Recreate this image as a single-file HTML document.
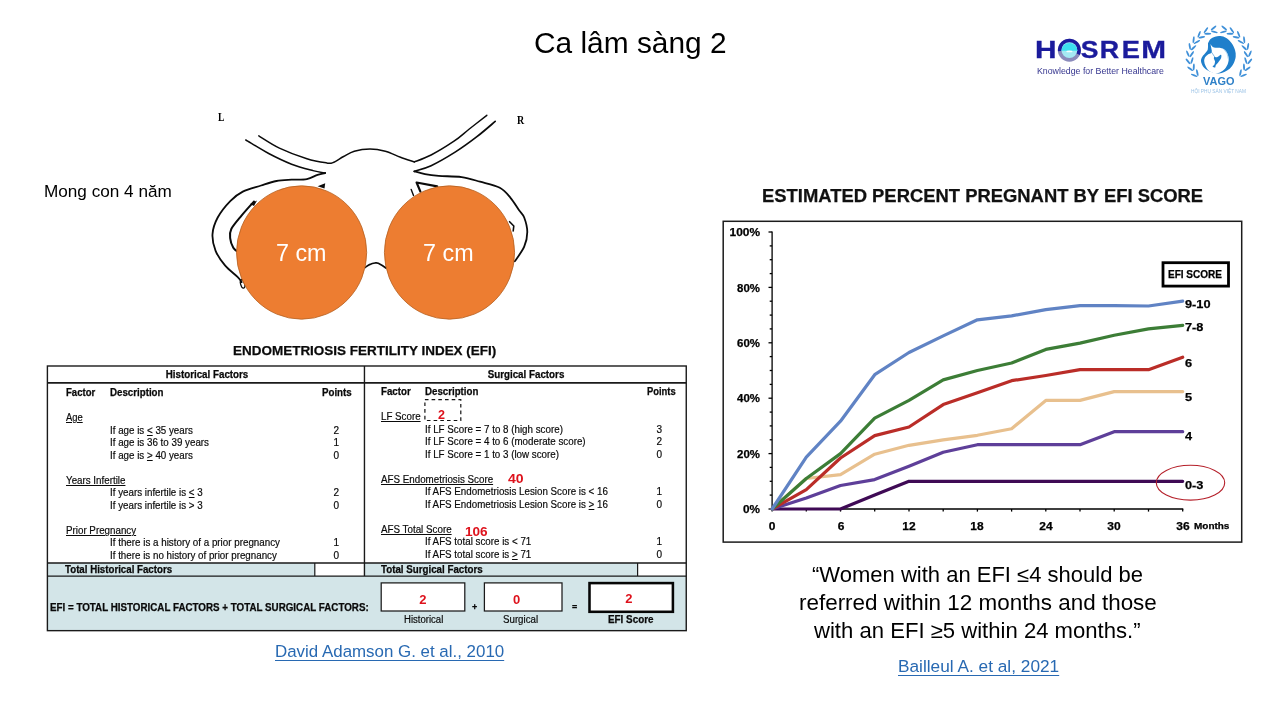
<!DOCTYPE html>
<html><head><meta charset="utf-8"><title>Ca lam sang 2</title>
<style>
html,body{margin:0;padding:0;background:#fff;}
#slide{will-change:transform;position:relative;width:1280px;height:720px;overflow:hidden;background:#fff;font-family:"Liberation Sans",sans-serif;}
.t{position:absolute;white-space:nowrap;line-height:1;display:block;}
svg{position:absolute;left:0;top:0;}
.bx{position:absolute;box-sizing:border-box;}

</style></head>
<body>
<div id="slide">
<div class="bx" style="left:47.4px;top:563px;width:638.8px;height:67.7px;background:#D3E5E8;"></div>
<div class="bx" style="left:314.8px;top:563px;width:49.6px;height:13px;background:#fff;"></div>
<div class="bx" style="left:637.6px;top:563px;width:48.6px;height:13px;background:#fff;"></div>
<svg width="1280" height="720" viewBox="0 0 1280 720">
<g fill="none" stroke="#1a1a1a">
<rect x="47.4" y="366" width="638.85" height="264.65" stroke-width="1.4"/>
<path d="M47.4,382.9H686.2" stroke-width="1.7"/>
<path d="M47.4,563H686.2M47.4,576.05H686.2" stroke-width="1.35"/>
<path d="M364.45,366V576" stroke-width="1.4"/>
<path d="M314.8,563V576M637.6,563V576" stroke-width="1.2"/>
<rect x="381.2" y="582.9" width="83.6" height="28.1" fill="#fff" stroke-width="1.25"/>
<rect x="484.4" y="582.9" width="77.6" height="28.1" fill="#fff" stroke-width="1.25"/>
<rect x="589.5" y="583.1" width="83.4" height="28.7" fill="#fff" stroke="#060606" stroke-width="2.55"/>
</g>
<g fill="none" stroke="#0b0b0b" stroke-width="1.5" stroke-linecap="round" stroke-linejoin="round">
<path d="M258.8,135.9C262.2,137.9 271.4,144.3 279.4,148.1C287.4,151.9 299.0,156.3 306.9,158.8C314.8,161.3 322.5,162.3 326.8,162.9C331.1,163.5 330.1,163.7 332.9,162.6C335.7,161.5 340.0,158.4 343.6,156.5C347.2,154.6 349.9,152.5 354.3,151.2C358.7,149.9 364.8,148.9 370.0,148.9C375.2,148.9 380.2,149.8 385.3,151.2C390.4,152.6 395.7,155.5 400.5,157.3C405.3,159.1 412.0,161.1 414.3,161.9"/>
<path d="M414.3,161.9C417.1,160.8 424.5,158.4 431.1,155.0C437.7,151.6 447.6,145.5 454.0,141.2C460.4,136.9 463.8,133.3 469.3,129.0C474.8,124.7 483.9,117.6 486.8,115.3"/>
<path d="M245.8,140.0C249.6,142.2 261.1,149.5 268.7,153.5C276.3,157.5 284.2,161.3 291.6,164.2C299.0,167.0 307.4,169.1 313.0,170.6C318.6,172.1 323.2,172.6 325.2,173.0"/>
<path d="M325.2,173.0C323.9,173.3 320.7,173.8 317.6,174.8C314.6,175.8 311.2,178.3 306.9,179.1C302.6,179.9 296.7,179.4 291.6,179.7C286.5,180.0 281.5,180.0 276.4,181.0C271.3,182.0 266.7,183.7 261.1,185.5C255.5,187.3 247.9,189.0 242.8,191.6C237.7,194.2 234.7,196.5 230.5,200.8C226.3,205.1 220.7,211.9 217.7,217.5C214.7,223.1 212.8,228.6 212.5,234.2C212.2,239.8 213.5,245.6 215.6,250.8C217.7,256.0 221.3,261.0 225.0,265.4C228.7,269.8 234.7,274.1 237.5,276.9C240.3,279.7 241.0,281.2 241.7,282.1" stroke-width="1.8"/>
<path d="M254.0,201.5C251.9,203.8 245.5,210.8 241.7,215.4C237.9,220.0 233.2,225.2 231.3,229.0C229.4,232.8 229.9,235.2 230.2,238.3C230.5,241.4 232.0,245.4 233.3,247.7C234.6,250.0 237.2,251.3 238.0,252.0" stroke-width="2"/>
<ellipse cx="242.6" cy="283.8" rx="2" ry="4.4" transform="rotate(-15 242.6 283.8)" stroke-width="1.3"/>
<path d="M495.2,121.4C492.1,124.0 483.5,131.6 476.9,136.7C470.3,141.8 463.1,147.1 455.5,151.9C447.9,156.7 438.0,162.5 431.1,165.7C424.2,168.9 417.1,170.4 414.3,171.3" stroke-width="1.7"/>
<path d="M414.3,171.3C416.1,171.8 420.9,173.3 425.0,174.1C429.1,174.9 432.6,175.4 438.7,175.9C444.8,176.4 454.7,176.1 461.6,177.1C468.5,178.1 473.6,179.9 480.0,181.7C486.4,183.5 494.7,185.1 499.8,187.8C504.9,190.5 507.3,194.1 510.5,197.8C513.7,201.5 516.6,206.7 518.9,210.0C521.2,213.3 522.8,213.8 524.2,217.5C525.6,221.2 527.3,227.2 527.3,232.1C527.3,237.0 526.3,241.8 524.2,246.7C522.1,251.6 516.4,258.9 514.8,261.3" stroke-width="1.8"/>
<path d="M420.4,191.6L416.6,182.5L437.2,186.3" stroke-width="2.2"/>
<path d="M411.2,189.4L413.5,195.5" stroke-width="1.4"/>
<path d="M509.6,221.7L513.8,226L513.2,231" stroke-width="1.6"/>
<path d="M365.0,267.5C365.8,267.0 368.3,265.1 370.0,264.4C371.7,263.6 373.6,263.2 375.0,263.0C376.4,262.8 376.5,262.5 378.3,263.3C380.1,264.1 384.7,267.2 386.0,268.0" stroke-width="1.7"/>
</g>
<path d="M317.6,186.3L325.2,183.2L324.5,188.6Z" fill="#0b0b0b"/>
<path d="M250,204L257,200.5L254,206Z" fill="#0b0b0b"/>
<ellipse cx="301.6" cy="252.5" rx="65.1" ry="66.7" fill="#ED7D31" stroke="#B5601F" stroke-width="0.8"/>
<ellipse cx="449.5" cy="252.5" rx="65.1" ry="66.7" fill="#ED7D31" stroke="#B5601F" stroke-width="0.8"/>
<rect x="723.2" y="221.3" width="518.5" height="320.8" fill="#fff" stroke="#1c1c1c" stroke-width="1.5"/>
<g stroke="#000" stroke-width="1.3" fill="none">
<path d="M772.1,231.4V509.0H1183.28"/>
<path d="M768.5,509.0H772.1"/>
<path d="M769.7,495.1H772.1"/>
<path d="M769.7,481.3H772.1"/>
<path d="M769.7,467.4H772.1"/>
<path d="M768.5,453.6H772.1"/>
<path d="M769.7,439.8H772.1"/>
<path d="M769.7,425.9H772.1"/>
<path d="M769.7,412.1H772.1"/>
<path d="M768.5,398.2H772.1"/>
<path d="M769.7,384.4H772.1"/>
<path d="M769.7,370.5H772.1"/>
<path d="M769.7,356.6H772.1"/>
<path d="M768.5,342.8H772.1"/>
<path d="M769.7,328.9H772.1"/>
<path d="M769.7,315.1H772.1"/>
<path d="M769.7,301.2H772.1"/>
<path d="M768.5,287.4H772.1"/>
<path d="M769.7,273.6H772.1"/>
<path d="M769.7,259.7H772.1"/>
<path d="M769.7,245.9H772.1"/>
<path d="M768.5,232.0H772.1"/>
<path d="M772.1,509.0V511.6"/>
<path d="M806.3,509.0V511.6"/>
<path d="M840.5,509.0V511.6"/>
<path d="M874.7,509.0V511.6"/>
<path d="M909.0,509.0V511.6"/>
<path d="M943.2,509.0V511.6"/>
<path d="M977.4,509.0V511.6"/>
<path d="M1011.6,509.0V511.6"/>
<path d="M1045.8,509.0V511.6"/>
<path d="M1080.0,509.0V511.6"/>
<path d="M1114.2,509.0V511.6"/>
<path d="M1148.5,509.0V511.6"/>
<path d="M1182.7,509.0V511.6"/>
</g>
<path d="M772.1,509.0L806.3,478.5L840.5,474.7L874.7,454.2L909.0,445.3L943.2,439.8L977.4,435.3L1011.6,428.7L1045.8,400.4L1080.0,400.4L1114.2,391.6L1148.5,391.6L1182.7,391.6" fill="none" stroke="#E8C08E" stroke-width="3.2" stroke-linejoin="round" stroke-linecap="round"/>
<path d="M772.1,509.0L840.5,509.0L874.7,495.1L909.0,481.3L1182.7,481.3" fill="none" stroke="#3F0A55" stroke-width="3.2" stroke-linejoin="round" stroke-linecap="round"/>
<path d="M772.1,509.0L806.3,497.9L840.5,485.5L874.7,479.6L909.0,466.3L943.2,452.2L977.4,444.7L1080.0,444.7L1114.2,431.7L1182.7,431.7" fill="none" stroke="#5E3F99" stroke-width="3.2" stroke-linejoin="round" stroke-linecap="round"/>
<path d="M772.1,509.0L806.3,489.6L840.5,458.0L874.7,435.6L909.0,427.0L943.2,404.6L977.4,392.7L1011.6,380.7L1045.8,375.5L1080.0,369.7L1114.2,369.7L1148.5,369.7L1182.7,357.2" fill="none" stroke="#BA2D28" stroke-width="3.2" stroke-linejoin="round" stroke-linecap="round"/>
<path d="M772.1,509.0L806.3,478.5L840.5,453.6L874.7,418.1L909.0,400.4L943.2,379.9L977.4,370.5L1011.6,363.0L1045.8,349.4L1080.0,343.1L1114.2,335.3L1148.5,328.9L1182.7,325.3" fill="none" stroke="#3C7D36" stroke-width="3.2" stroke-linejoin="round" stroke-linecap="round"/>
<path d="M772.1,509.0L806.3,457.2L840.5,421.2L874.7,374.7L909.0,352.5L943.2,335.9L977.4,319.8L1011.6,315.9L1045.8,309.6L1080.0,305.7L1114.2,305.7L1148.5,306.0L1182.7,301.2" fill="none" stroke="#6083C4" stroke-width="3.2" stroke-linejoin="round" stroke-linecap="round"/>
<rect x="424.9" y="399.6" width="35.9" height="20.9" fill="none" stroke="#111" stroke-width="1.2" stroke-dasharray="3.6 3.1"/>
<rect x="1163" y="262.7" width="65.5" height="23.4" fill="#fff" stroke="#000" stroke-width="2.8"/>
<ellipse cx="1190.5" cy="482.7" rx="34.2" ry="17.4" fill="none" stroke="#B5202A" stroke-width="1.1"/>
<g font-family="'Liberation Sans', sans-serif" font-weight="bold" font-size="23.84" fill="#1B1B9C" stroke="#1B1B9C" stroke-width="0.35">
<text transform="translate(1035.11,58.3) scale(1.249,1)">H</text>
<text transform="translate(1080.64,58.3) scale(1.113,1)">S</text>
<text transform="translate(1099.81,58.3) scale(1.123,1)">R</text>
<text transform="translate(1121.68,58.3) scale(1.144,1)">E</text>
<text transform="translate(1141.21,58.3) scale(1.248,1)">M</text>
</g>
<circle cx="1069.4" cy="50.2" r="11.5" fill="#8B8BBB"/>
<path d="M1069.4,50.2L1057.94,51.20A11.5,11.5 0 1 1 1079.82,55.06Z" fill="#1B1B9C"/>
<circle cx="1069.4" cy="50.2" r="7.9" fill="#A5E9F3"/>
<path d="M1061.5,50.800000000000004A7.9,7.9 0 0 1 1077.3000000000002,50.800000000000004Z" fill="#3DE0EE"/>
<ellipse cx="1069.4" cy="51.400000000000006" rx="3.2" ry="0.9" fill="#fff" opacity="0.9"/>
<g fill="#3F90D8">
<ellipse cx="1194.23" cy="75.31" rx="3.5" ry="0.95" transform="rotate(202.0 1194.23 75.31)"/>
<ellipse cx="1197.29" cy="72.74" rx="3.5" ry="0.95" transform="rotate(258.0 1197.29 72.74)"/>
<ellipse cx="1190.17" cy="68.74" rx="3.5" ry="0.95" transform="rotate(216.8 1190.17 68.74)"/>
<ellipse cx="1193.79" cy="67.03" rx="3.5" ry="0.95" transform="rotate(272.8 1193.79 67.03)"/>
<ellipse cx="1188.00" cy="61.41" rx="3.5" ry="0.95" transform="rotate(231.5 1188.00 61.41)"/>
<ellipse cx="1191.94" cy="60.69" rx="3.5" ry="0.95" transform="rotate(287.5 1191.94 60.69)"/>
<ellipse cx="1187.87" cy="53.81" rx="3.5" ry="0.95" transform="rotate(246.2 1187.87 53.81)"/>
<ellipse cx="1191.86" cy="54.11" rx="3.5" ry="0.95" transform="rotate(302.2 1191.86 54.11)"/>
<ellipse cx="1189.79" cy="46.43" rx="3.5" ry="0.95" transform="rotate(261.0 1189.79 46.43)"/>
<ellipse cx="1193.57" cy="47.73" rx="3.5" ry="0.95" transform="rotate(317.0 1193.57 47.73)"/>
<ellipse cx="1193.62" cy="39.76" rx="3.5" ry="0.95" transform="rotate(275.8 1193.62 39.76)"/>
<ellipse cx="1196.95" cy="41.98" rx="3.5" ry="0.95" transform="rotate(331.8 1196.95 41.98)"/>
<ellipse cx="1199.13" cy="34.24" rx="3.5" ry="0.95" transform="rotate(290.5 1199.13 34.24)"/>
<ellipse cx="1201.78" cy="37.23" rx="3.5" ry="0.95" transform="rotate(346.5 1201.78 37.23)"/>
<ellipse cx="1205.93" cy="30.23" rx="3.5" ry="0.95" transform="rotate(305.2 1205.93 30.23)"/>
<ellipse cx="1207.73" cy="33.80" rx="3.5" ry="0.95" transform="rotate(361.2 1207.73 33.80)"/>
<ellipse cx="1213.59" cy="28.00" rx="3.5" ry="0.95" transform="rotate(320.0 1213.59 28.00)"/>
<ellipse cx="1214.42" cy="31.91" rx="3.5" ry="0.95" transform="rotate(376.0 1214.42 31.91)"/>
<ellipse cx="1243.57" cy="75.31" rx="3.5" ry="0.95" transform="rotate(-22.0 1243.57 75.31)"/>
<ellipse cx="1240.51" cy="72.74" rx="3.5" ry="0.95" transform="rotate(-78.0 1240.51 72.74)"/>
<ellipse cx="1247.63" cy="68.74" rx="3.5" ry="0.95" transform="rotate(-36.8 1247.63 68.74)"/>
<ellipse cx="1244.01" cy="67.03" rx="3.5" ry="0.95" transform="rotate(-92.8 1244.01 67.03)"/>
<ellipse cx="1249.80" cy="61.41" rx="3.5" ry="0.95" transform="rotate(-51.5 1249.80 61.41)"/>
<ellipse cx="1245.86" cy="60.69" rx="3.5" ry="0.95" transform="rotate(-107.5 1245.86 60.69)"/>
<ellipse cx="1249.93" cy="53.81" rx="3.5" ry="0.95" transform="rotate(-66.2 1249.93 53.81)"/>
<ellipse cx="1245.94" cy="54.11" rx="3.5" ry="0.95" transform="rotate(-122.2 1245.94 54.11)"/>
<ellipse cx="1248.01" cy="46.43" rx="3.5" ry="0.95" transform="rotate(-81.0 1248.01 46.43)"/>
<ellipse cx="1244.23" cy="47.73" rx="3.5" ry="0.95" transform="rotate(-137.0 1244.23 47.73)"/>
<ellipse cx="1244.18" cy="39.76" rx="3.5" ry="0.95" transform="rotate(-95.8 1244.18 39.76)"/>
<ellipse cx="1240.85" cy="41.98" rx="3.5" ry="0.95" transform="rotate(-151.8 1240.85 41.98)"/>
<ellipse cx="1238.67" cy="34.24" rx="3.5" ry="0.95" transform="rotate(-110.5 1238.67 34.24)"/>
<ellipse cx="1236.02" cy="37.23" rx="3.5" ry="0.95" transform="rotate(-166.5 1236.02 37.23)"/>
<ellipse cx="1231.87" cy="30.23" rx="3.5" ry="0.95" transform="rotate(-125.2 1231.87 30.23)"/>
<ellipse cx="1230.07" cy="33.80" rx="3.5" ry="0.95" transform="rotate(-181.2 1230.07 33.80)"/>
<ellipse cx="1224.21" cy="28.00" rx="3.5" ry="0.95" transform="rotate(-140.0 1224.21 28.00)"/>
<ellipse cx="1223.38" cy="31.91" rx="3.5" ry="0.95" transform="rotate(-196.0 1223.38 31.91)"/>
</g>
<path d="M1208.0,43.3C1208.4,42.7 1209.2,40.4 1210.3,39.3C1211.5,38.2 1213.3,37.2 1215.0,36.7C1216.7,36.1 1218.4,35.8 1220.3,36.0C1222.2,36.2 1224.4,36.8 1226.3,38.0C1228.2,39.2 1230.2,41.3 1231.7,43.3C1233.1,45.3 1234.3,47.8 1235.0,50.0C1235.7,52.2 1235.9,54.4 1235.7,56.7C1235.4,58.9 1234.7,61.3 1233.7,63.3C1232.7,65.3 1231.2,67.2 1229.7,68.7C1228.1,70.1 1226.1,71.2 1224.3,72.0C1222.6,72.8 1220.7,73.3 1219.0,73.5C1217.3,73.6 1216.1,73.3 1214.3,72.8C1212.6,72.3 1210.1,71.6 1208.3,70.7C1206.6,69.8 1204.9,68.9 1203.7,67.3C1202.4,65.8 1201.2,63.1 1201.0,61.3C1200.8,59.6 1201.5,58.2 1202.3,56.7C1203.2,55.2 1205.1,53.6 1206.0,52.3C1206.9,51.1 1207.5,50.8 1207.8,49.3C1208.1,47.8 1208.0,44.3 1208.0,43.3Z" fill="#1F7FCB"/>
<path d="M1210.5,44.1C1210.8,44.6 1211.6,46.1 1212.5,46.7C1213.3,47.3 1214.5,47.6 1215.7,47.7C1216.9,47.9 1218.3,47.5 1219.7,47.7C1221.0,48.0 1222.4,48.2 1223.7,49.1C1224.9,49.9 1226.2,51.2 1227.0,52.7C1227.8,54.2 1228.5,56.2 1228.7,58.0C1228.8,59.8 1228.6,61.5 1228.0,63.3C1227.4,65.1 1226.3,67.3 1225.0,68.8C1223.7,70.3 1222.0,71.5 1220.3,72.3C1218.6,73.0 1216.6,73.6 1214.7,73.3C1212.9,73.1 1210.6,72.1 1209.1,70.9C1207.6,69.8 1206.5,67.9 1205.7,66.3C1204.8,64.7 1204.3,62.8 1204.2,61.3C1204.1,59.8 1204.5,58.5 1205.1,57.3C1205.8,56.2 1207.0,55.2 1208.0,54.5C1209.0,53.8 1210.2,53.7 1210.9,53.2C1211.5,52.7 1211.7,52.2 1211.8,51.5C1211.9,50.7 1211.6,50.0 1211.4,48.8C1211.2,47.6 1210.6,44.9 1210.5,44.1Z" fill="#fff"/>
<path d="M1214.2,56.5C1214.7,56.7 1215.9,57.6 1217.0,57.3C1218.1,57.0 1220.2,54.7 1220.9,54.8C1221.6,54.9 1221.5,56.8 1221.1,58.0C1220.7,59.2 1219.4,60.8 1218.5,62.0C1217.6,63.2 1216.4,64.4 1215.8,65.3C1215.2,66.2 1215.7,67.3 1215.1,67.5C1214.6,67.6 1212.7,66.9 1212.6,66.4C1212.5,65.9 1213.9,65.5 1214.3,64.7C1214.7,63.8 1215.1,62.3 1215.0,61.3C1214.9,60.3 1214.1,59.5 1213.9,58.7C1213.8,57.9 1214.2,56.9 1214.2,56.5Z" fill="#1F7FCB"/>
<path d="M1211.4,52.1C1211.7,52.5 1212.6,53.8 1213.1,54.5C1213.6,55.3 1214.2,56.3 1214.5,56.7" fill="none" stroke="#1F7FCB" stroke-width="0.6"/>
<path d="M1223.8,49.2C1224.3,49.9 1226.1,51.8 1226.9,53.3C1227.6,54.9 1228.0,57.8 1228.2,58.7" fill="none" stroke="#8CC4EC" stroke-width="0.7"/>
</svg>
<span class="t" style="left:533.80px;top:28.00px;font-size:30.2px;color:#000;transform:scaleX(0.9894);transform-origin:0 0;">Ca lâm sàng 2</span>
<span class="t" style="left:43.70px;top:183.00px;font-size:16.3px;color:#000;transform:scaleX(1.0537);transform-origin:0 0;">Mong con 4 năm</span>
<span class="t" style="left:274.60px;top:643.00px;font-size:16.3px;color:#2869B2;text-decoration:underline;transform:scaleX(1.0378);transform-origin:0 0;text-underline-offset:2.6px;text-decoration-thickness:1.1px;">David Adamson G. et al., 2010</span>
<span class="t" style="left:897.50px;top:658.00px;font-size:16.3px;color:#2869B2;text-decoration:underline;transform:scaleX(1.0600);transform-origin:0 0;text-underline-offset:2.6px;text-decoration-thickness:1.1px;">Bailleul A. et al, 2021</span>
<span class="t" style="left:812.30px;top:564.00px;font-size:21.2px;color:#000;transform:scaleX(1.0389);transform-origin:0 0;">“Women with an EFI ≤4 should be</span>
<span class="t" style="left:798.90px;top:592.00px;font-size:21.2px;color:#000;transform:scaleX(1.0585);transform-origin:0 0;">referred within 12 months and those</span>
<span class="t" style="left:813.80px;top:620.00px;font-size:21.2px;color:#000;transform:scaleX(1.0431);transform-origin:0 0;">with an EFI ≥5 within 24 months.”</span>
<span class="t" style="left:217.80px;top:111.00px;font-size:12.7px;color:#000;font-weight:bold;font-family:'Liberation Serif', serif;transform:scaleX(0.7600);transform-origin:0 0;">L</span>
<span class="t" style="left:517.20px;top:114.00px;font-size:12.5px;color:#000;font-weight:bold;font-family:'Liberation Serif', serif;transform:scaleX(0.8000);transform-origin:0 0;">R</span>
<span class="t" style="left:276.00px;top:242.00px;font-size:23.3px;color:#fff;">7 cm</span>
<span class="t" style="left:423.10px;top:242.00px;font-size:23.3px;color:#fff;">7 cm</span>
<span class="t" style="left:233.10px;top:344.00px;font-size:13.6px;color:#0a0a0a;font-weight:bold;-webkit-text-stroke:0.25px currentColor;transform:scaleX(0.9913);transform-origin:0 0;">ENDOMETRIOSIS FERTILITY INDEX (EFI)</span>
<span class="t" style="left:206.60px;top:370.00px;font-size:10px;color:#0a0a0a;font-weight:bold;-webkit-text-stroke:0.25px currentColor;transform:translateX(-50%) scaleX(0.9780);transform-origin:50% 0;">Historical Factors</span>
<span class="t" style="left:526.40px;top:370.00px;font-size:10px;color:#0a0a0a;font-weight:bold;-webkit-text-stroke:0.25px currentColor;transform:translateX(-50%) scaleX(0.9780);transform-origin:50% 0;">Surgical Factors</span>
<span class="t" style="left:65.80px;top:388.00px;font-size:10px;color:#0a0a0a;font-weight:bold;-webkit-text-stroke:0.25px currentColor;transform:scaleX(0.9554);transform-origin:0 0;">Factor</span>
<span class="t" style="left:109.80px;top:388.00px;font-size:10px;color:#0a0a0a;font-weight:bold;-webkit-text-stroke:0.25px currentColor;transform:scaleX(0.9725);transform-origin:0 0;">Description</span>
<span class="t" style="left:322.20px;top:388.00px;font-size:10px;color:#0a0a0a;font-weight:bold;-webkit-text-stroke:0.25px currentColor;transform:scaleX(0.9718);transform-origin:0 0;">Points</span>
<span class="t" style="left:65.80px;top:413.00px;font-size:10px;color:#0a0a0a;-webkit-text-stroke:0.18px currentColor;text-decoration:underline;transform:scaleX(0.9384);transform-origin:0 0;text-underline-offset:1px;text-decoration-thickness:1px;">Age</span>
<span class="t" style="left:109.80px;top:426.00px;font-size:10px;color:#0a0a0a;-webkit-text-stroke:0.18px currentColor;transform:scaleX(0.9776);transform-origin:0 0;">If age is <u>&lt;</u> 35 years</span>
<span class="t" style="left:109.80px;top:438.00px;font-size:10px;color:#0a0a0a;-webkit-text-stroke:0.18px currentColor;transform:scaleX(0.9785);transform-origin:0 0;">If age is 36 to 39 years</span>
<span class="t" style="left:109.80px;top:451.00px;font-size:10px;color:#0a0a0a;-webkit-text-stroke:0.18px currentColor;transform:scaleX(0.9776);transform-origin:0 0;">If age is <u>&gt;</u> 40 years</span>
<span class="t" style="left:65.80px;top:476.00px;font-size:10px;color:#0a0a0a;-webkit-text-stroke:0.18px currentColor;text-decoration:underline;transform:scaleX(0.9780);transform-origin:0 0;text-underline-offset:1px;text-decoration-thickness:1px;">Years Infertile</span>
<span class="t" style="left:109.80px;top:488.00px;font-size:10px;color:#0a0a0a;-webkit-text-stroke:0.18px currentColor;transform:scaleX(0.9780);transform-origin:0 0;">If years infertile is <u>&lt;</u> 3</span>
<span class="t" style="left:109.80px;top:501.00px;font-size:10px;color:#0a0a0a;-webkit-text-stroke:0.18px currentColor;transform:scaleX(0.9780);transform-origin:0 0;">If years infertile is &gt; 3</span>
<span class="t" style="left:65.80px;top:526.00px;font-size:10px;color:#0a0a0a;-webkit-text-stroke:0.18px currentColor;text-decoration:underline;transform:scaleX(0.9780);transform-origin:0 0;text-underline-offset:1px;text-decoration-thickness:1px;">Prior Pregnancy</span>
<span class="t" style="left:109.80px;top:538.00px;font-size:10px;color:#0a0a0a;-webkit-text-stroke:0.18px currentColor;transform:scaleX(0.9803);transform-origin:0 0;">If there is a history of a prior pregnancy</span>
<span class="t" style="left:109.80px;top:551.00px;font-size:10px;color:#0a0a0a;-webkit-text-stroke:0.18px currentColor;transform:scaleX(0.9780);transform-origin:0 0;">If there is no history of prior pregnancy</span>
<span class="t" style="left:336.40px;top:426.00px;font-size:10px;color:#0a0a0a;-webkit-text-stroke:0.18px currentColor;transform:translateX(-50%);transform-origin:50% 0;">2</span>
<span class="t" style="left:336.40px;top:438.00px;font-size:10px;color:#0a0a0a;-webkit-text-stroke:0.18px currentColor;transform:translateX(-50%);transform-origin:50% 0;">1</span>
<span class="t" style="left:336.40px;top:451.00px;font-size:10px;color:#0a0a0a;-webkit-text-stroke:0.18px currentColor;transform:translateX(-50%);transform-origin:50% 0;">0</span>
<span class="t" style="left:336.40px;top:488.00px;font-size:10px;color:#0a0a0a;-webkit-text-stroke:0.18px currentColor;transform:translateX(-50%);transform-origin:50% 0;">2</span>
<span class="t" style="left:336.40px;top:501.00px;font-size:10px;color:#0a0a0a;-webkit-text-stroke:0.18px currentColor;transform:translateX(-50%);transform-origin:50% 0;">0</span>
<span class="t" style="left:336.40px;top:538.00px;font-size:10px;color:#0a0a0a;-webkit-text-stroke:0.18px currentColor;transform:translateX(-50%);transform-origin:50% 0;">1</span>
<span class="t" style="left:336.40px;top:551.00px;font-size:10px;color:#0a0a0a;-webkit-text-stroke:0.18px currentColor;transform:translateX(-50%);transform-origin:50% 0;">0</span>
<span class="t" style="left:65.20px;top:565.00px;font-size:10px;color:#0a0a0a;font-weight:bold;-webkit-text-stroke:0.25px currentColor;transform:scaleX(0.9701);transform-origin:0 0;">Total Historical Factors</span>
<span class="t" style="left:380.60px;top:387.00px;font-size:10px;color:#0a0a0a;font-weight:bold;-webkit-text-stroke:0.25px currentColor;transform:scaleX(0.9718);transform-origin:0 0;">Factor</span>
<span class="t" style="left:425.20px;top:387.00px;font-size:10px;color:#0a0a0a;font-weight:bold;-webkit-text-stroke:0.25px currentColor;transform:scaleX(0.9706);transform-origin:0 0;">Description</span>
<span class="t" style="left:646.70px;top:387.00px;font-size:10px;color:#0a0a0a;font-weight:bold;-webkit-text-stroke:0.25px currentColor;transform:scaleX(0.9391);transform-origin:0 0;">Points</span>
<span class="t" style="left:380.60px;top:412.00px;font-size:10px;color:#0a0a0a;-webkit-text-stroke:0.18px currentColor;text-decoration:underline;transform:scaleX(0.9759);transform-origin:0 0;text-underline-offset:1px;text-decoration-thickness:1px;">LF Score</span>
<span class="t" style="left:425.20px;top:425.00px;font-size:10px;color:#0a0a0a;-webkit-text-stroke:0.18px currentColor;transform:scaleX(0.9787);transform-origin:0 0;">If LF Score = 7 to 8 (high score)</span>
<span class="t" style="left:425.20px;top:437.00px;font-size:10px;color:#0a0a0a;-webkit-text-stroke:0.18px currentColor;transform:scaleX(0.9780);transform-origin:0 0;">If LF Score = 4 to 6 (moderate score)</span>
<span class="t" style="left:425.20px;top:450.00px;font-size:10px;color:#0a0a0a;-webkit-text-stroke:0.18px currentColor;transform:scaleX(0.9780);transform-origin:0 0;">If LF Score = 1 to 3 (low score)</span>
<span class="t" style="left:380.60px;top:475.00px;font-size:10px;color:#0a0a0a;-webkit-text-stroke:0.18px currentColor;text-decoration:underline;transform:scaleX(0.9790);transform-origin:0 0;text-underline-offset:1px;text-decoration-thickness:1px;">AFS Endometriosis Score</span>
<span class="t" style="left:425.20px;top:487.00px;font-size:10px;color:#0a0a0a;-webkit-text-stroke:0.18px currentColor;transform:scaleX(0.9780);transform-origin:0 0;">If AFS Endometriosis Lesion Score is &lt; 16</span>
<span class="t" style="left:425.20px;top:500.00px;font-size:10px;color:#0a0a0a;-webkit-text-stroke:0.18px currentColor;transform:scaleX(0.9780);transform-origin:0 0;">If AFS Endometriosis Lesion Score is <u>&gt;</u> 16</span>
<span class="t" style="left:380.60px;top:525.00px;font-size:10px;color:#0a0a0a;-webkit-text-stroke:0.18px currentColor;text-decoration:underline;transform:scaleX(0.9795);transform-origin:0 0;text-underline-offset:1px;text-decoration-thickness:1px;">AFS Total Score</span>
<span class="t" style="left:425.20px;top:537.00px;font-size:10px;color:#0a0a0a;-webkit-text-stroke:0.18px currentColor;transform:scaleX(0.9780);transform-origin:0 0;">If AFS total score is &lt; 71</span>
<span class="t" style="left:425.20px;top:550.00px;font-size:10px;color:#0a0a0a;-webkit-text-stroke:0.18px currentColor;transform:scaleX(0.9780);transform-origin:0 0;">If AFS total score is <u>&gt;</u> 71</span>
<span class="t" style="left:659.40px;top:425.00px;font-size:10px;color:#0a0a0a;-webkit-text-stroke:0.18px currentColor;transform:translateX(-50%);transform-origin:50% 0;">3</span>
<span class="t" style="left:659.40px;top:437.00px;font-size:10px;color:#0a0a0a;-webkit-text-stroke:0.18px currentColor;transform:translateX(-50%);transform-origin:50% 0;">2</span>
<span class="t" style="left:659.40px;top:450.00px;font-size:10px;color:#0a0a0a;-webkit-text-stroke:0.18px currentColor;transform:translateX(-50%);transform-origin:50% 0;">0</span>
<span class="t" style="left:659.40px;top:487.00px;font-size:10px;color:#0a0a0a;-webkit-text-stroke:0.18px currentColor;transform:translateX(-50%);transform-origin:50% 0;">1</span>
<span class="t" style="left:659.40px;top:500.00px;font-size:10px;color:#0a0a0a;-webkit-text-stroke:0.18px currentColor;transform:translateX(-50%);transform-origin:50% 0;">0</span>
<span class="t" style="left:659.40px;top:537.00px;font-size:10px;color:#0a0a0a;-webkit-text-stroke:0.18px currentColor;transform:translateX(-50%);transform-origin:50% 0;">1</span>
<span class="t" style="left:659.40px;top:550.00px;font-size:10px;color:#0a0a0a;-webkit-text-stroke:0.18px currentColor;transform:translateX(-50%);transform-origin:50% 0;">0</span>
<span class="t" style="left:380.50px;top:565.00px;font-size:10px;color:#0a0a0a;font-weight:bold;-webkit-text-stroke:0.25px currentColor;transform:scaleX(0.9751);transform-origin:0 0;">Total Surgical Factors</span>
<span class="t" style="left:437.70px;top:408.00px;font-size:13px;color:#DE121C;font-weight:bold;transform:scaleX(0.9676);transform-origin:0 0;">2</span>
<span class="t" style="left:508.00px;top:472.00px;font-size:13px;color:#DE121C;font-weight:bold;transform:scaleX(1.0782);transform-origin:0 0;">40</span>
<span class="t" style="left:464.80px;top:525.00px;font-size:13px;color:#DE121C;font-weight:bold;transform:scaleX(1.0459);transform-origin:0 0;">106</span>
<span class="t" style="left:50.10px;top:603.00px;font-size:10px;color:#0a0a0a;font-weight:bold;-webkit-text-stroke:0.25px currentColor;transform:scaleX(0.9799);transform-origin:0 0;">EFI = TOTAL HISTORICAL FACTORS + TOTAL SURGICAL FACTORS:</span>
<span class="t" style="left:422.90px;top:593.00px;font-size:13px;color:#DE121C;font-weight:bold;transform:translateX(-50%);transform-origin:50% 0;">2</span>
<span class="t" style="left:516.70px;top:593.00px;font-size:13px;color:#DE121C;font-weight:bold;transform:translateX(-50%);transform-origin:50% 0;">0</span>
<span class="t" style="left:628.80px;top:592.00px;font-size:13px;color:#DE121C;font-weight:bold;transform:translateX(-50%);transform-origin:50% 0;">2</span>
<span class="t" style="left:474.70px;top:603.00px;font-size:9px;color:#0a0a0a;font-weight:bold;-webkit-text-stroke:0.25px currentColor;transform:translateX(-50%);transform-origin:50% 0;">+</span>
<span class="t" style="left:574.60px;top:603.00px;font-size:9px;color:#0a0a0a;font-weight:bold;-webkit-text-stroke:0.25px currentColor;transform:translateX(-50%);transform-origin:50% 0;">=</span>
<span class="t" style="left:403.80px;top:615.00px;font-size:10px;color:#0a0a0a;-webkit-text-stroke:0.18px currentColor;transform:scaleX(0.9556);transform-origin:0 0;">Historical</span>
<span class="t" style="left:502.90px;top:615.00px;font-size:10px;color:#0a0a0a;-webkit-text-stroke:0.18px currentColor;transform:scaleX(0.9712);transform-origin:0 0;">Surgical</span>
<span class="t" style="left:607.50px;top:615.00px;font-size:10px;color:#0a0a0a;font-weight:bold;-webkit-text-stroke:0.25px currentColor;transform:scaleX(0.9861);transform-origin:0 0;">EFI Score</span>
<span class="t" style="left:761.80px;top:187.00px;font-size:18px;color:#111;font-weight:bold;-webkit-text-stroke:0.25px currentColor;transform:scaleX(1.0225);transform-origin:0 0;">ESTIMATED PERCENT PREGNANT BY EFI SCORE</span>
<span class="t" style="left:760.20px;top:227.00px;font-size:10.8px;color:#000;font-weight:bold;-webkit-text-stroke:0.25px currentColor;transform:translateX(-100%) scaleX(1.1041);transform-origin:100% 0;">100%</span>
<span class="t" style="left:760.20px;top:283.00px;font-size:10.8px;color:#000;font-weight:bold;-webkit-text-stroke:0.25px currentColor;transform:translateX(-100%) scaleX(1.0590);transform-origin:100% 0;">80%</span>
<span class="t" style="left:760.20px;top:338.00px;font-size:10.8px;color:#000;font-weight:bold;-webkit-text-stroke:0.25px currentColor;transform:translateX(-100%) scaleX(1.0590);transform-origin:100% 0;">60%</span>
<span class="t" style="left:760.20px;top:393.00px;font-size:10.8px;color:#000;font-weight:bold;-webkit-text-stroke:0.25px currentColor;transform:translateX(-100%) scaleX(1.0590);transform-origin:100% 0;">40%</span>
<span class="t" style="left:760.20px;top:449.00px;font-size:10.8px;color:#000;font-weight:bold;-webkit-text-stroke:0.25px currentColor;transform:translateX(-100%) scaleX(1.0590);transform-origin:100% 0;">20%</span>
<span class="t" style="left:760.20px;top:504.00px;font-size:10.8px;color:#000;font-weight:bold;-webkit-text-stroke:0.25px currentColor;transform:translateX(-100%) scaleX(1.0891);transform-origin:100% 0;">0%</span>
<span class="t" style="left:772.10px;top:521.00px;font-size:10.9px;color:#000;font-weight:bold;-webkit-text-stroke:0.25px currentColor;transform:translateX(-50%) scaleX(1.1000);transform-origin:50% 0;">0</span>
<span class="t" style="left:840.53px;top:521.00px;font-size:10.9px;color:#000;font-weight:bold;-webkit-text-stroke:0.25px currentColor;transform:translateX(-50%) scaleX(1.1000);transform-origin:50% 0;">6</span>
<span class="t" style="left:908.96px;top:521.00px;font-size:10.9px;color:#000;font-weight:bold;-webkit-text-stroke:0.25px currentColor;transform:translateX(-50%) scaleX(1.1000);transform-origin:50% 0;">12</span>
<span class="t" style="left:977.39px;top:521.00px;font-size:10.9px;color:#000;font-weight:bold;-webkit-text-stroke:0.25px currentColor;transform:translateX(-50%) scaleX(1.1000);transform-origin:50% 0;">18</span>
<span class="t" style="left:1045.82px;top:521.00px;font-size:10.9px;color:#000;font-weight:bold;-webkit-text-stroke:0.25px currentColor;transform:translateX(-50%) scaleX(1.1000);transform-origin:50% 0;">24</span>
<span class="t" style="left:1114.25px;top:521.00px;font-size:10.9px;color:#000;font-weight:bold;-webkit-text-stroke:0.25px currentColor;transform:translateX(-50%) scaleX(1.1000);transform-origin:50% 0;">30</span>
<span class="t" style="left:1182.68px;top:521.00px;font-size:10.9px;color:#000;font-weight:bold;-webkit-text-stroke:0.25px currentColor;transform:translateX(-50%) scaleX(1.1000);transform-origin:50% 0;">36</span>
<span class="t" style="left:1194.00px;top:521.00px;font-size:9.4px;color:#000;font-weight:bold;-webkit-text-stroke:0.25px currentColor;transform:scaleX(1.0622);transform-origin:0 0;">Months</span>
<span class="t" style="left:1168.10px;top:270.00px;font-size:10.2px;color:#000;font-weight:bold;-webkit-text-stroke:0.25px currentColor;transform:scaleX(0.9832);transform-origin:0 0;">EFI SCORE</span>
<span class="t" style="left:1184.70px;top:299.00px;font-size:11.3px;color:#000;font-weight:bold;-webkit-text-stroke:0.25px currentColor;transform:scaleX(1.1300);transform-origin:0 0;">9-10</span>
<span class="t" style="left:1184.70px;top:322.00px;font-size:11.3px;color:#000;font-weight:bold;-webkit-text-stroke:0.25px currentColor;transform:scaleX(1.1300);transform-origin:0 0;">7-8</span>
<span class="t" style="left:1184.70px;top:358.00px;font-size:11.3px;color:#000;font-weight:bold;-webkit-text-stroke:0.25px currentColor;transform:scaleX(1.1300);transform-origin:0 0;">6</span>
<span class="t" style="left:1184.70px;top:392.00px;font-size:11.3px;color:#000;font-weight:bold;-webkit-text-stroke:0.25px currentColor;transform:scaleX(1.1300);transform-origin:0 0;">5</span>
<span class="t" style="left:1184.70px;top:431.00px;font-size:11.3px;color:#000;font-weight:bold;-webkit-text-stroke:0.25px currentColor;transform:scaleX(1.1300);transform-origin:0 0;">4</span>
<span class="t" style="left:1184.70px;top:480.00px;font-size:11.3px;color:#000;font-weight:bold;-webkit-text-stroke:0.25px currentColor;transform:scaleX(1.1300);transform-origin:0 0;">0-3</span>
<span class="t" style="left:1037.10px;top:66.00px;font-size:9.4px;color:#36368F;transform:scaleX(0.9365);transform-origin:0 0;">Knowledge for Better Healthcare</span>
<span class="t" style="left:1202.60px;top:76.00px;font-size:10.8px;color:#2E80C8;font-weight:bold;transform:scaleX(1.0129);transform-origin:0 0;">VAGO</span>
<span class="t" style="left:1191.10px;top:90.00px;font-size:4.6px;color:#9CC3E6;transform:scaleX(1.0423);transform-origin:0 0;">HỘI PHỤ SẢN VIỆT NAM</span>
</div>
</body></html>
